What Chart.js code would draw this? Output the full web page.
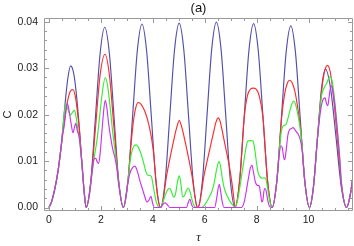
<!DOCTYPE html>
<html><head><meta charset="utf-8">
<script src="https://cdn.jsdelivr.net/npm/chart.js@4"></script>
<style>html,body{margin:0;padding:0;background:#fff;}</style>
</head><body>
<canvas id="c" width="354" height="246"></canvas>
<script>
const xTicks = [0, 2, 4, 6, 8, 10];
const yTicks = [0, 0.01, 0.02, 0.03, 0.04];
const chartTitle = '(a)';
const xTitle = 'τ';
const yTitle = 'C';

const tauBlue = [0,0.1,0.23,0.36,0.48,0.6,0.72,0.835,0.95,1.05,1.17,1.28,1.36,1.433,
 1.612,1.791,1.970,2.150,2.329,2.508,2.687,2.866,
 3.045,3.224,3.403,3.583,3.762,3.941,4.120,4.299,
 4.478,4.657,4.836,5.016,5.195,5.374,5.553,5.732,
 5.911,6.090,6.269,6.449,6.628,6.807,6.986,7.165,
 7.344,7.523,7.702,7.882,8.061,8.240,8.419,8.598,
 8.777,8.956,9.135,9.315,9.494,9.673,9.852,10.031,
 10.186,10.341,10.495,10.65,10.85,11.06,11.26,11.464,11.6,11.76];
const cBlue = [0,0.0012,0.0041,0.0082,0.0136,0.0210,0.0275,0.0305,0.0290,0.0248,0.0172,0.0088,0.0032,0,
 0.0057,0.0194,0.0331,0.0388,0.0331,0.0194,0.0057,0,
 0.0058,0.0198,0.0337,0.0395,0.0337,0.0198,0.0058,0,
 0.0058,0.0199,0.0339,0.0397,0.0339,0.0199,0.0058,0,
 0.0058,0.0200,0.0341,0.0399,0.0341,0.0200,0.0058,0,
 0.0058,0.0198,0.0338,0.0396,0.0338,0.0198,0.0058,0,
 0.0057,0.0196,0.0334,0.0391,0.0334,0.0196,0.0057,0,
 0.0044,0.0149,0.0255,0.0298,0.0255,0.0149,0.0044,0,0.0026,0.0088];

const tauRed = [0,0.1,0.23,0.36,0.48,0.6,0.72,0.82,0.92,1.02,1.1,1.17,1.28,1.36,1.433,
 1.612,1.791,1.970,2.16,2.329,2.508,2.687,2.866,
 3.045,3.15,3.25,3.35,3.44,3.55,3.7,3.85,3.96,4.04,4.120,4.21,4.299,
 4.36,4.42,4.53,4.65,4.78,4.92,5.02,5.12,5.26,5.39,5.51,5.62,5.68,5.732,
 5.79,5.86,5.96,6.08,6.2,6.32,6.44,6.53,6.6,6.71,6.83,6.95,7.05,7.12,7.165,
 7.344,7.523,7.64,7.76,7.87,7.98,8.1,8.240,8.419,8.598,
 8.777,8.956,9.07,9.17,9.27,9.37,9.48,9.6,9.7,9.852,10.031,
 10.186,10.341,10.495,10.62,10.73,10.84,10.96,11.08,11.18,11.26,11.464,11.6,11.76];
const cRed = [0,0.0012,0.0041,0.0082,0.0135,0.0188,0.0230,0.0250,0.0254,0.0238,0.0205,0.0168,0.0088,0.0032,0,
 0.0055,0.0170,0.0285,0.0330,0.0285,0.0170,0.0055,0,
 0.0058,0.0128,0.0184,0.0216,0.0226,0.0222,0.0206,0.0178,0.0146,0.0112,0.0058,0.0016,0,
 0.0005,0.0025,0.0068,0.0103,0.0138,0.0172,0.0187,0.0172,0.0138,0.0103,0.0068,0.0025,0.0005,0,
 0.0005,0.0027,0.0065,0.0097,0.0127,0.0157,0.0185,0.0193,0.0184,0.0155,0.0122,0.0088,0.0052,0.0020,0,
 0.0058,0.0195,0.0240,0.0255,0.0257,0.0255,0.0240,0.0195,0.0058,0,
 0.0057,0.0190,0.0242,0.0266,0.0274,0.0268,0.0248,0.0208,0.0165,0.0057,0,
 0.0044,0.0149,0.0248,0.0294,0.0306,0.0290,0.0238,0.0165,0.0100,0.0052,0,0.0026,0.0088];

const tauGreen = [0,0.1,0.23,0.36,0.48,0.56,0.64,0.72,0.83,0.92,0.99,1.06,1.12,1.17,1.28,1.36,1.433,
 1.55,1.65,1.75,1.85,1.95,2.05,2.17,2.26,2.36,2.45,2.55,2.62,2.687,2.866,
 3.045,3.12,3.2,3.28,3.36,3.44,3.53,3.63,3.72,3.8,3.88,3.95,4.03,4.12,4.2,4.299,
 4.38,4.48,4.58,4.66,4.73,4.8,4.87,4.95,5.02,5.08,5.15,5.22,5.3,5.37,5.44,5.52,5.6,5.68,
 5.88,5.97,6.05,6.15,6.27,6.36,6.45,6.52,6.56,6.62,6.68,6.75,6.83,6.91,7.0,7.1,7.165,
 7.25,7.33,7.42,7.52,7.6,7.66,7.76,7.86,7.92,7.99,8.06,8.13,8.21,8.29,8.35,8.42,8.49,8.55,8.598,
 8.777,8.87,8.94,9.0,9.07,9.14,9.22,9.3,9.38,9.44,9.5,9.58,9.65,9.75,9.852,10.031,
 10.186,10.341,10.495,10.6,10.7,10.78,10.84,10.92,11.02,11.12,11.2,11.26,11.464,11.6,11.76];
const cGreen = [0,0.0012,0.0041,0.0082,0.0136,0.0184,0.0224,0.0213,0.0199,0.0206,0.0209,0.0190,0.0165,0.0150,0.0088,0.0032,0,
 0.0024,0.0070,0.0110,0.0145,0.0195,0.0245,0.0280,0.0262,0.0215,0.0165,0.0120,0.0088,0.0052,0,
 0.0058,0.0098,0.0122,0.0133,0.0135,0.0130,0.0118,0.0100,0.0080,0.0070,0.0069,0.0066,0.0042,0.0015,0.0003,0,
 0.0010,0.0027,0.0039,0.0041,0.0032,0.0022,0.0028,0.0055,0.0068,0.0052,0.0023,0.0026,0.0037,0.0042,0.0033,0.0015,0.0003,0,
 0,0.0004,0.0010,0.0020,0.0034,0.0052,0.0080,0.0096,0.0099,0.0085,0.0062,0.0042,0.0029,0.0020,0.0011,0.0004,0,
 0.0012,0.0036,0.0068,0.0105,0.0132,0.0143,0.0144,0.0143,0.0128,0.0098,0.0074,0.0066,0.0063,0.0064,0.0062,0.0042,0.0018,0.0004,0,
 0.0057,0.0122,0.0160,0.0174,0.0177,0.0180,0.0195,0.0213,0.0226,0.0229,0.0222,0.0202,0.0180,0.0132,0.0057,0,
 0.0044,0.0149,0.0240,0.0258,0.0268,0.0279,0.0282,0.0268,0.0222,0.0158,0.0105,0.0055,0,0.0026,0.0088];

const tauPurple = [0,0.1,0.23,0.36,0.48,0.52,0.57,0.62,0.67,0.71,0.77,0.85,0.93,0.98,1.03,1.09,1.17,1.28,1.36,1.433,
 1.55,1.65,1.73,1.8,1.86,1.91,1.97,2.05,2.12,2.17,2.23,2.3,2.38,2.46,2.55,2.62,2.687,2.866,
 3.045,3.12,3.22,3.31,3.4,3.5,3.6,3.7,3.77,3.84,3.93,3.99,4.06,4.299,4.39,4.47,4.56,4.66,
 5.3,5.37,5.43,5.49,5.56,6.38,6.46,6.52,6.56,6.61,6.67,6.74,
 7.42,7.52,7.6,7.68,7.76,7.82,7.88,7.95,8.02,8.1,8.15,8.2,8.24,8.3,8.36,8.43,8.5,8.598,
 8.777,8.87,8.94,8.99,9.04,9.08,9.13,9.2,9.27,9.34,9.4,9.46,9.53,9.6,9.67,9.75,9.852,10.031,
 10.186,10.341,10.47,10.56,10.63,10.7,10.74,10.79,10.86,10.93,11.02,11.12,11.2,11.26,11.464,11.6,11.76];
const cPurple = [0,0.0012,0.0041,0.0082,0.0136,0.0156,0.0169,0.0190,0.0216,0.0224,0.0210,0.0182,0.0161,0.0172,0.0181,0.0166,0.0150,0.0088,0.0032,0,
 0.0024,0.0070,0.0104,0.0106,0.0098,0.0095,0.0115,0.0170,0.0215,0.0231,0.0215,0.0180,0.0150,0.0125,0.0105,0.0082,0.0050,0,
 0.0055,0.0074,0.0086,0.0089,0.0079,0.0058,0.0040,0.0022,0.0012,0.0015,0.0024,0.0010,0,0,0.0007,0.0010,0.0006,0,
 0,0.0012,0.0018,0.0007,0,0,0.0020,0.0042,0.0050,0.0036,0.0013,0,
 0,0.0012,0.0035,0.0062,0.0086,0.0091,0.0075,0.0055,0.0048,0.0046,0.0030,0.0012,0.0016,0.0041,0.0037,0.0015,0.0002,0,
 0.0057,0.0115,0.0133,0.0128,0.0108,0.0103,0.0120,0.0155,0.0168,0.0170,0.0172,0.0169,0.0163,0.0158,0.0148,0.0125,0.0057,0,
 0.0044,0.0149,0.0212,0.0233,0.0236,0.0222,0.0219,0.0238,0.0262,0.0252,0.0215,0.0158,0.0105,0.0055,0,0.0026,0.0088];

function pts(t, c) { return t.map((v, i) => ({ x: v, y: c[i] })); }

const FONT = 'Liberation Sans, Arial, sans-serif';

const framePlugin = {
  id: 'frame',
  afterDraw(chart) {
    const { ctx, chartArea: a, scales: { x, y } } = chart;
    ctx.save();
    ctx.strokeStyle = '#9a9a9a';
    ctx.lineWidth = 1;
    const L = Math.round(a.left) + 0.5, R = Math.round(a.right) - 0.5;
    const T = Math.round(a.top) + 0.5, B = Math.round(a.bottom) - 0.5;
    ctx.beginPath();
    ctx.rect(L, T, R - L, B - T);
    ctx.stroke();
    ctx.beginPath();
    for (let k = Math.ceil(x.min / 0.5); k * 0.5 <= x.max; k++) {
      const v = k * 0.5;
      const len = (k % 4 === 0) ? 4.5 : 2.5;
      const px = Math.round(x.getPixelForValue(v)) + 0.5;
      ctx.moveTo(px, B); ctx.lineTo(px, B - len);
      ctx.moveTo(px, T); ctx.lineTo(px, T + len);
    }
    for (let k = Math.ceil(y.min / 0.002); k * 0.002 <= y.max + 1e-9; k++) {
      const v = k * 0.002;
      const len = (k % 5 === 0) ? 4.5 : 2.5;
      const py = Math.round(y.getPixelForValue(v)) + 0.5;
      ctx.moveTo(L, py); ctx.lineTo(L + len, py);
      ctx.moveTo(R, py); ctx.lineTo(R - len, py);
    }
    ctx.stroke();
    ctx.fillStyle = '#111';
    ctx.font = '13px ' + FONT;
    ctx.textAlign = 'center';
    ctx.textBaseline = 'middle';
    ctx.fillText(chartTitle, (a.left + a.right) / 2, 8.5);
    ctx.restore();
  }
};

new Chart(document.getElementById('c'), {
  type: 'line',
  data: {
    datasets: [
      { data: pts(tauPurple, cPurple), borderColor: '#cc33ee', order: 0 },
      { data: pts(tauGreen, cGreen), borderColor: '#33ee33', order: 1 },
      { data: pts(tauRed, cRed), borderColor: '#ff2a2a', order: 2 },
      { data: pts(tauBlue, cBlue), borderColor: '#4f4fac', order: 3 }
    ]
  },
  options: {
    responsive: false,
    animation: false,
    events: [],
    layout: { padding: { top: 18, right: 1, left: 0, bottom: 0 } },
    plugins: { legend: { display: false }, tooltip: { enabled: false }, title: { display: false } },
    elements: {
      point: { radius: 0 },
      line: { cubicInterpolationMode: 'monotone', borderWidth: 1.15, fill: false }
    },
    scales: {
      x: {
        type: 'linear', min: -0.19, max: 11.71,
        afterBuildTicks: s => { s.ticks = xTicks.map(v => ({ value: v })); },
        afterFit: s => { s.height = 35; },
        grid: { display: false, drawTicks: false },
        border: { display: false },
        ticks: { padding: 3, color: '#222', font: { family: FONT, size: 10.5 }, maxRotation: 0, autoSkip: false,
                 callback: v => String(v) },
        title: { display: true, text: xTitle, color: '#222',
                 font: { family: 'Liberation Serif, serif', style: 'italic', size: 12.5 }, padding: { top: 0, bottom: 1 } }
      },
      y: {
        type: 'linear', min: -0.00075, max: 0.0408,
        afterBuildTicks: s => { s.ticks = yTicks.map(v => ({ value: v })); },
        afterFit: s => { s.width = 44; },
        grid: { display: false, drawTicks: false },
        border: { display: false },
        ticks: { padding: 6, color: '#222', font: { family: FONT, size: 10.5 }, autoSkip: false,
                 callback: v => v.toFixed(2) },
        title: { display: true, text: yTitle, color: '#222',
                 font: { family: FONT, size: 11 }, padding: { top: 1, bottom: 0 } }
      }
    }
  },
  plugins: [framePlugin]
});
</script>
</body></html>
